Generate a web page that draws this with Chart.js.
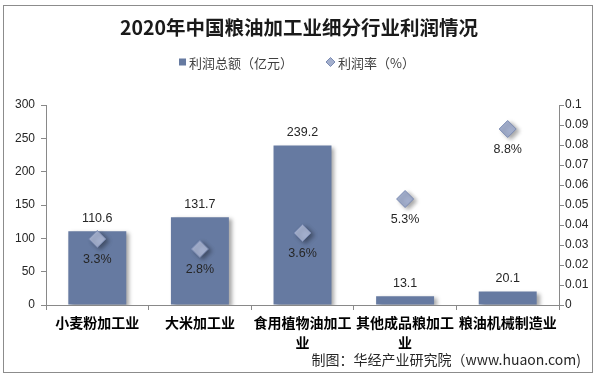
<!DOCTYPE html>
<html><head><meta charset="utf-8">
<script src="https://cdn.jsdelivr.net/npm/chart.js@4"></script>
<style>html,body{margin:0;padding:0;background:#fff}#wrap{width:598px;height:380px;position:relative}</style>
</head><body><div id="wrap"><canvas id="c" width="598" height="380"></canvas></div>
<script>
const chartTitle = '2020年中国粮油加工业细分行业利润情况';
const categories = ['小麦粉加工业', '大米加工业', ['食用植物油加工', '业'], ['其他成品粮加工', '业'], '粮油机械制造业'];
const seriesNames = ['利润总额（亿元）', '利润率（%）'];
const profitTotal = [110.6, 131.7, 239.2, 13.1, 20.1];
const profitRate = [0.033, 0.028, 0.036, 0.053, 0.088];
const leftTicks = [0, 50, 100, 150, 200, 250, 300];
const rightTicks = [0, 0.01, 0.02, 0.03, 0.04, 0.05, 0.06, 0.07, 0.08, 0.09, 0.1];
const sourceNote = '制图：华经产业研究院（www.huaon.com)';

const BAR = '#667aa1';
const PT_FILL = '#a3afcd';
const PT_BORDER = '#7a8ab2';
const AXIS = '#898989';
const CJK = '"Noto Sans CJK SC", "Noto Sans", sans-serif';
const LAT = '"Liberation Sans", Arial, sans-serif';

const shadowPlugin = {
  id: 'shadow',
  beforeDatasetDraw(chart) {
    const ctx = chart.ctx;
    ctx.save();
    ctx.shadowColor = 'rgba(0,0,0,0.35)';
    ctx.shadowOffsetX = 3;
    ctx.shadowOffsetY = 2;
    ctx.shadowBlur = 4;
  },
  afterDatasetDraw(chart) { chart.ctx.restore(); }
};

const labelPlugin = {
  id: 'valueLabels',
  afterDatasetsDraw(chart) {
    const ctx = chart.ctx;
    ctx.save();
    ctx.font = '12.5px ' + LAT;
    ctx.fillStyle = '#262626';
    ctx.textAlign = 'center';
    ctx.textBaseline = 'middle';
    chart.getDatasetMeta(0).data.forEach((el, i) => {
      ctx.fillText(profitTotal[i].toFixed(1), el.x, el.y - 13);
    });
    chart.getDatasetMeta(1).data.forEach((el, i) => {
      ctx.fillText((profitRate[i] * 100).toFixed(1) + '%', el.x, el.y + 21);
    });
    ctx.restore();
  }
};

const decoPlugin = {
  id: 'deco',
  afterDraw(chart) {
    const ctx = chart.ctx;
    ctx.save();
    // legend
    ctx.font = '13px ' + CJK;
    ctx.textBaseline = 'middle';
    ctx.textAlign = 'left';
    const y = 62;
    const w1 = ctx.measureText(seriesNames[0]).width;
    const w2 = ctx.measureText(seriesNames[1]).width;
    const gap = 33;
    const total = 7 + 3 + w1 + gap + 9 + 3 + w2;
    let x = 297 - total / 2;
    ctx.fillStyle = BAR;
    ctx.fillRect(x, y - 3.5, 7, 7);
    x += 10;
    ctx.fillStyle = '#404040';
    ctx.fillText(seriesNames[0], x, y + 1);
    x += w1 + gap;
    ctx.beginPath();
    ctx.moveTo(x + 4.5, y - 4.5);
    ctx.lineTo(x + 9, y);
    ctx.lineTo(x + 4.5, y + 4.5);
    ctx.lineTo(x, y);
    ctx.closePath();
    ctx.fillStyle = PT_FILL;
    ctx.fill();
    ctx.strokeStyle = PT_BORDER;
    ctx.lineWidth = 1;
    ctx.stroke();
    x += 12;
    ctx.fillStyle = '#404040';
    ctx.fillText(seriesNames[1], x, y + 1);
    // source
    ctx.font = '14px ' + CJK;
    ctx.textAlign = 'right';
    ctx.fillStyle = '#262626';
    ctx.fillText(sourceNote, 581, 360);
    // frame
    ctx.strokeStyle = '#8c8c8c';
    ctx.lineWidth = 1;
    ctx.strokeRect(3.5, 5.5, 589, 367);
    ctx.restore();
  }
};

new Chart(document.getElementById('c'), {
  data: {
    labels: categories,
    datasets: [
      {
        type: 'bar',
        label: seriesNames[0],
        data: profitTotal,
        backgroundColor: BAR,
        yAxisID: 'y',
        categoryPercentage: 1,
        barPercentage: 0.565,
        order: 1
      },
      {
        type: 'line',
        label: seriesNames[1],
        data: profitRate,
        showLine: false,
        yAxisID: 'y1',
        pointStyle: 'rectRot',
        pointRadius: 8.5,
        pointBackgroundColor: PT_FILL,
        pointBorderColor: PT_BORDER,
        pointBorderWidth: 1,
        order: 0
      }
    ]
  },
  options: {
    responsive: false,
    animation: false,
    devicePixelRatio: 1,
    events: [],
    layout: { padding: 0 },
    plugins: {
      legend: { display: false },
      tooltip: { enabled: false },
      title: {
        display: true,
        text: chartTitle,
        color: '#1a1a1a',
        font: { family: CJK, size: 19.5, weight: 'bold', lineHeight: 1.2 },
        padding: { top: 16.3, bottom: 65.3 }
      }
    },
    scales: {
      x: {
        type: 'category',
        offset: true,
        grid: { offset: true, drawOnChartArea: false, drawTicks: true, tickLength: 5, color: AXIS },
        border: { color: AXIS },
        ticks: {
          color: '#000',
          font: { family: CJK, size: 14, weight: 'bold', lineHeight: 1.4 },
          padding: 3,
          maxRotation: 0,
          minRotation: 0,
          autoSkip: false
        },
        afterFit(s) { s.height = 75; }
      },
      y: {
        position: 'left',
        min: leftTicks[0],
        max: leftTicks[leftTicks.length - 1],
        afterBuildTicks(s) { s.ticks = leftTicks.map(v => ({ value: v })); },
        grid: { drawOnChartArea: false, drawTicks: true, tickLength: 5, color: AXIS },
        border: { color: AXIS },
        ticks: { color: '#262626', font: { family: LAT, size: 12 }, padding: 6 },
        afterFit(s) { s.width = 46; }
      },
      y1: {
        position: 'right',
        min: rightTicks[0],
        max: rightTicks[rightTicks.length - 1],
        afterBuildTicks(s) { s.ticks = rightTicks.map(v => ({ value: v })); },
        grid: { drawOnChartArea: false, drawTicks: true, tickLength: 5, color: AXIS },
        border: { color: AXIS },
        ticks: {
          color: '#262626',
          font: { family: LAT, size: 12 },
          padding: 1,
          callback: v => String(+v.toFixed(2))
        },
        afterFit(s) { s.width = 39; }
      }
    }
  },
  plugins: [shadowPlugin, labelPlugin, decoPlugin]
});
</script>
</body></html>
